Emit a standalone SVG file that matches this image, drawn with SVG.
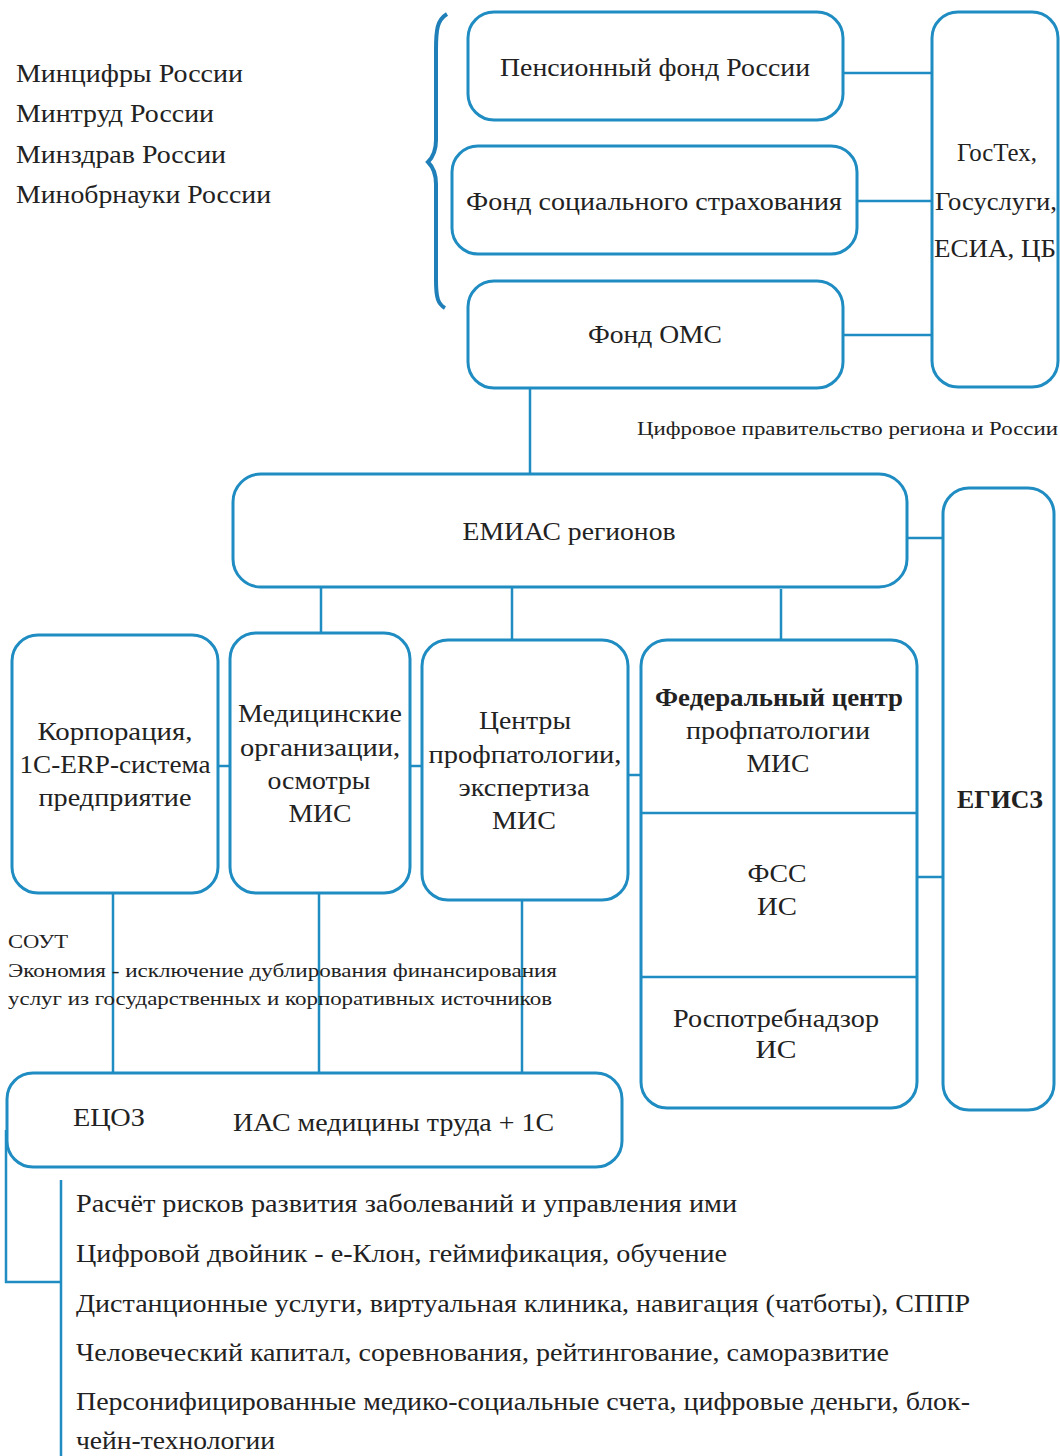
<svg xmlns="http://www.w3.org/2000/svg" width="1060" height="1456" viewBox="0 0 1060 1456">
<style>
.box{fill:#fff;stroke:#1f8cc2;stroke-width:3}
.ln{fill:none;stroke:#1f8cc2;stroke-width:2.5}
text{font-family:"Liberation Serif","DejaVu Serif",serif;fill:#222}
.t{font-size:25px}
.c{text-anchor:middle}
.s{font-size:19px}
.b{font-weight:bold}
</style>
<rect width="1060" height="1456" fill="#fff"/>
<g id="ministries">
<text class="t" x="16" y="82" textLength="227" lengthAdjust="spacingAndGlyphs">Минцифры России</text>
<text class="t" x="16" y="122" textLength="198" lengthAdjust="spacingAndGlyphs">Минтруд России</text>
<text class="t" x="16" y="163" textLength="210" lengthAdjust="spacingAndGlyphs">Минздрав России</text>
<text class="t" x="16" y="203" textLength="255" lengthAdjust="spacingAndGlyphs">Минобрнауки России</text>
</g>
<g id="brace">
<path d="M447,14 C437,20 436,30 436,50 L436,140 C436,152 432,158 428,162 C432,166 436,172 436,184 L436,280 C436,298 438,304 445,308" fill="none" stroke="#1f7fb8" stroke-width="4"/>
</g>
<g id="connectors">
<line class="ln" x1="843" y1="73" x2="933" y2="73"/>
<line class="ln" x1="857" y1="201" x2="933" y2="201"/>
<line class="ln" x1="843" y1="335" x2="933" y2="335"/>
<line class="ln" x1="530" y1="388" x2="530" y2="476"/>
<line class="ln" x1="907" y1="538" x2="943" y2="538"/>
<line class="ln" x1="321" y1="587" x2="321" y2="634"/>
<line class="ln" x1="512" y1="587" x2="512" y2="640"/>
<line class="ln" x1="781" y1="589" x2="781" y2="641"/>
<line class="ln" x1="218" y1="766" x2="230" y2="766"/>
<line class="ln" x1="410" y1="766" x2="422" y2="766"/>
<line class="ln" x1="628" y1="775" x2="641" y2="775"/>
<line class="ln" x1="917" y1="877" x2="943" y2="877"/>
<line class="ln" x1="113" y1="893" x2="113" y2="1073"/>
<line class="ln" x1="319" y1="893" x2="319" y2="1077"/>
<line class="ln" x1="522" y1="899" x2="522" y2="1079"/>
<polyline class="ln" points="6,1130 6,1282 61,1282"/>
<line class="ln" x1="61" y1="1180" x2="61" y2="1456"/>
</g>
<g id="pfr">
<rect class="box" x="468" y="12" width="375" height="108" rx="26"/>
<text class="t c" x="655" y="76" textLength="310" lengthAdjust="spacingAndGlyphs">Пенсионный фонд России</text>
</g>
<g id="fss">
<rect class="box" x="452" y="146" width="405" height="108" rx="26"/>
<text class="t c" x="654" y="210" textLength="376" lengthAdjust="spacingAndGlyphs">Фонд социального страхования</text>
</g>
<g id="foms">
<rect class="box" x="468" y="281" width="375" height="107" rx="26"/>
<text class="t c" x="655" y="343" textLength="134" lengthAdjust="spacingAndGlyphs">Фонд ОМС</text>
</g>
<g id="gostech">
<rect class="box" x="932" y="12" width="126" height="375" rx="26"/>
<text class="t c" x="997" y="161" textLength="80" lengthAdjust="spacingAndGlyphs">ГосТех,</text>
<text class="t c" x="996" y="210" textLength="122" lengthAdjust="spacingAndGlyphs">Госуслуги,</text>
<text class="t c" x="995" y="257" textLength="122" lengthAdjust="spacingAndGlyphs">ЕСИА, ЦБ</text>
</g>
<g id="digital-gov">
<text class="s" x="637" y="435" textLength="421" lengthAdjust="spacingAndGlyphs">Цифровое правительство региона и России</text>
</g>
<g id="emias">
<rect class="box" x="233" y="474" width="674" height="113" rx="28"/>
<text class="t c" x="569" y="540" textLength="213" lengthAdjust="spacingAndGlyphs">ЕМИАС регионов</text>
</g>
<g id="egisz">
<rect class="box" x="943" y="488" width="111" height="622" rx="26"/>
<text class="t c b" x="1000" y="808" textLength="86" lengthAdjust="spacingAndGlyphs">ЕГИСЗ</text>
</g>
<g id="corp">
<rect class="box" x="12" y="635" width="206" height="258" rx="26"/>
<text class="t c" x="115" y="740" textLength="155" lengthAdjust="spacingAndGlyphs">Корпорация,</text>
<text class="t c" x="115" y="773" textLength="191" lengthAdjust="spacingAndGlyphs">1С-ERP-система</text>
<text class="t c" x="115" y="806" textLength="153" lengthAdjust="spacingAndGlyphs">предприятие</text>
</g>
<g id="medorg">
<rect class="box" x="230" y="633" width="180" height="260" rx="26"/>
<text class="t c" x="320" y="722" textLength="164" lengthAdjust="spacingAndGlyphs">Медицинские</text>
<text class="t c" x="320" y="756" textLength="160" lengthAdjust="spacingAndGlyphs">организации,</text>
<text class="t c" x="319" y="789" textLength="103" lengthAdjust="spacingAndGlyphs">осмотры</text>
<text class="t c" x="320" y="822" textLength="63" lengthAdjust="spacingAndGlyphs">МИС</text>
</g>
<g id="centers">
<rect class="box" x="422" y="640" width="206" height="260" rx="26"/>
<text class="t c" x="525" y="729" textLength="92" lengthAdjust="spacingAndGlyphs">Центры</text>
<text class="t c" x="525" y="763" textLength="193" lengthAdjust="spacingAndGlyphs">профпатологии,</text>
<text class="t c" x="524" y="796" textLength="131" lengthAdjust="spacingAndGlyphs">экспертиза</text>
<text class="t c" x="524" y="829" textLength="64" lengthAdjust="spacingAndGlyphs">МИС</text>
</g>
<g id="federal">
<rect class="box" x="641" y="640" width="276" height="468" rx="26"/>
<line class="ln" x1="641" y1="813" x2="917" y2="813"/>
<line class="ln" x1="641" y1="977" x2="917" y2="977"/>
<text class="t c b" x="779" y="706" textLength="248" lengthAdjust="spacingAndGlyphs">Федеральный центр</text>
<text class="t c" x="778" y="739" textLength="184" lengthAdjust="spacingAndGlyphs">профпатологии</text>
<text class="t c" x="778" y="772" textLength="63" lengthAdjust="spacingAndGlyphs">МИС</text>
<text class="t c" x="777" y="882" textLength="59" lengthAdjust="spacingAndGlyphs">ФСС</text>
<text class="t c" x="777" y="915" textLength="40" lengthAdjust="spacingAndGlyphs">ИС</text>
<text class="t c" x="776" y="1027" textLength="206" lengthAdjust="spacingAndGlyphs">Роспотребнадзор</text>
<text class="t c" x="776" y="1058" textLength="41" lengthAdjust="spacingAndGlyphs">ИС</text>
</g>
<g id="sout-note">
<text class="s" x="8" y="948" textLength="60" lengthAdjust="spacingAndGlyphs">СОУТ</text>
<text class="s" x="8" y="977" textLength="549" lengthAdjust="spacingAndGlyphs">Экономия - исключение дублирования финансирования</text>
<text class="s" x="8" y="1005" textLength="544" lengthAdjust="spacingAndGlyphs">услуг из государственных и корпоративных источников</text>
</g>
<g id="ecoz">
<rect class="box" x="7" y="1073" width="615" height="94" rx="26"/>
<text class="t" x="73" y="1126" textLength="72" lengthAdjust="spacingAndGlyphs">ЕЦОЗ</text>
<text class="t" x="233" y="1131" textLength="321" lengthAdjust="spacingAndGlyphs">ИАС медицины труда + 1С</text>
</g>
<g id="services">
<text class="t" x="76" y="1212" textLength="661" lengthAdjust="spacingAndGlyphs">Расчёт рисков развития заболеваний и управления ими</text>
<text class="t" x="76" y="1262" textLength="651" lengthAdjust="spacingAndGlyphs">Цифровой двойник - е-Клон, геймификация, обучение</text>
<text class="t" x="76" y="1312" textLength="894" lengthAdjust="spacingAndGlyphs">Дистанционные услуги, виртуальная клиника, навигация (чатботы), СППР</text>
<text class="t" x="76" y="1361" textLength="813" lengthAdjust="spacingAndGlyphs">Человеческий капитал, соревнования, рейтингование, саморазвитие</text>
<text class="t" x="76" y="1410" textLength="894" lengthAdjust="spacingAndGlyphs">Персонифицированные медико-социальные счета, цифровые деньги, блок-</text>
<text class="t" x="76" y="1449" textLength="199" lengthAdjust="spacingAndGlyphs">чейн-технологии</text>
</g>
</svg>
